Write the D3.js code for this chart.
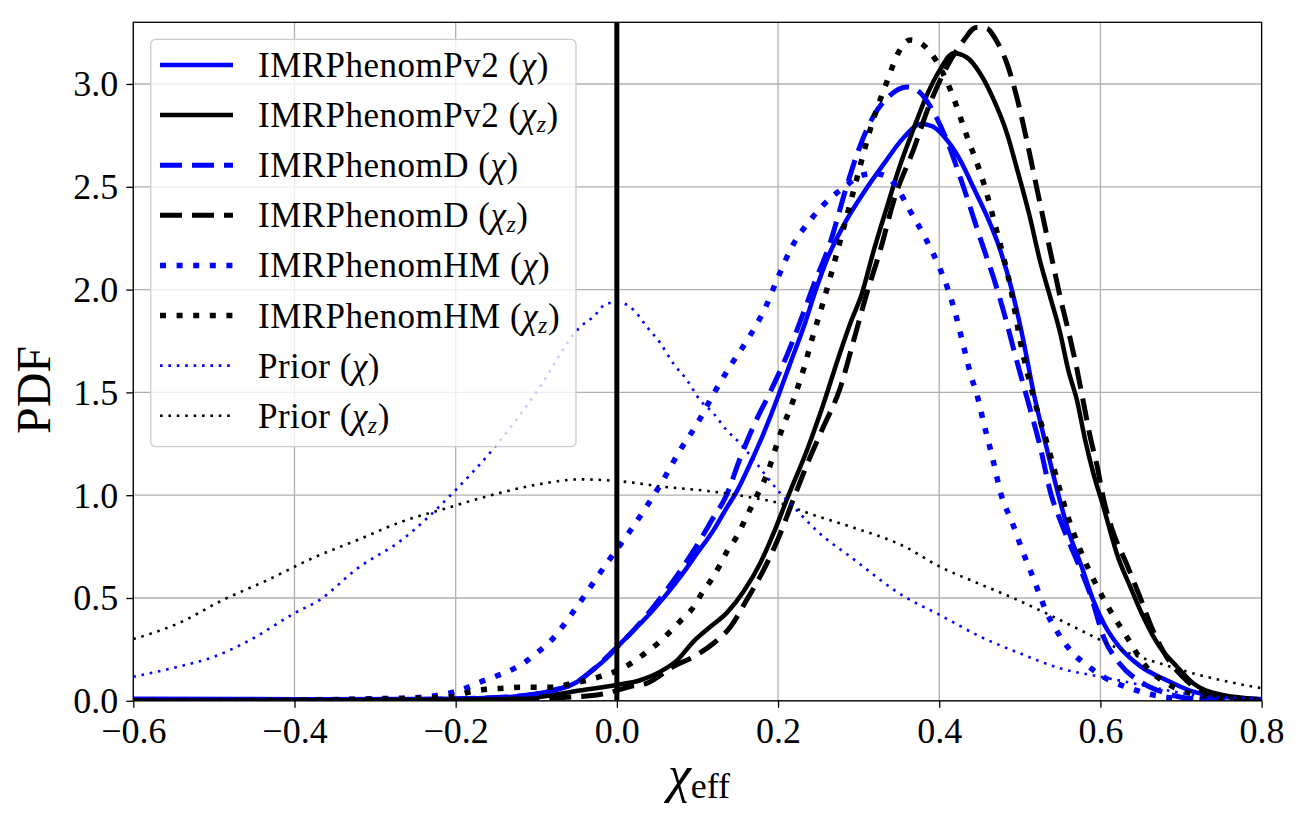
<!DOCTYPE html>
<html>
<head>
<meta charset="utf-8">
<script src="https://cdn.jsdelivr.net/npm/d3@7"></script>
<style>
  body { margin: 0; background: #fff; }
  text { font-family: "Liberation Serif", "DejaVu Serif", serif; fill: #000; }
</style>
</head>
<body>
<svg id="chart"></svg>
<script>
// ---- data: [chi_eff, PDF] ----
const pv2Chi = [[-0.6,0.01],[-0.4,0.008],[-0.2,0.01],[-0.13,0.02],[-0.08,0.05],[-0.05,0.09],[-0.03,0.15],[-0.012,0.21],[0,0.26],[0.02,0.34],[0.04,0.42],[0.06,0.51],[0.08,0.61],[0.1,0.72],[0.12,0.83],[0.135,0.93],[0.149,1.02],[0.165,1.15],[0.182,1.3],[0.2,1.48],[0.215,1.64],[0.232,1.82],[0.247,2.0],[0.26,2.14],[0.281,2.31],[0.306,2.47],[0.331,2.61],[0.356,2.74],[0.377,2.805],[0.391,2.795],[0.407,2.74],[0.426,2.63],[0.442,2.5],[0.46,2.35],[0.475,2.2],[0.49,2.0],[0.504,1.76],[0.517,1.5],[0.532,1.25],[0.548,1.0],[0.56,0.83],[0.577,0.65],[0.59,0.5],[0.605,0.37],[0.624,0.26],[0.649,0.17],[0.682,0.1],[0.711,0.05],[0.75,0.02],[0.8,0.008]];

const pv2Chiz = [[-0.6,0.0],[-0.3,0.002],[-0.2,0.005],[-0.116,0.012],[-0.079,0.028],[-0.046,0.05],[-0.02,0.065],[0,0.077],[0.029,0.1],[0.054,0.142],[0.075,0.198],[0.095,0.288],[0.116,0.36],[0.137,0.43],[0.157,0.53],[0.178,0.67],[0.195,0.82],[0.212,0.99],[0.236,1.22],[0.256,1.44],[0.275,1.67],[0.29,1.84],[0.304,1.98],[0.318,2.18],[0.335,2.4],[0.351,2.6],[0.368,2.78],[0.384,2.94],[0.401,3.07],[0.418,3.15],[0.434,3.13],[0.451,3.05],[0.468,2.92],[0.484,2.76],[0.497,2.58],[0.512,2.36],[0.525,2.14],[0.538,1.96],[0.55,1.79],[0.56,1.61],[0.571,1.46],[0.581,1.27],[0.591,1.11],[0.604,0.94],[0.614,0.8],[0.62,0.72],[0.637,0.555],[0.645,0.48],[0.653,0.41],[0.674,0.26],[0.695,0.166],[0.715,0.085],[0.75,0.03],[0.8,0.008]];

const dChi = [[-0.6,0.005],[-0.3,0.005],[-0.2,0.01],[-0.13,0.02],[-0.08,0.05],[-0.05,0.09],[-0.03,0.15],[0,0.26],[0.02,0.34],[0.04,0.43],[0.06,0.53],[0.08,0.64],[0.1,0.76],[0.118,0.88],[0.136,1.0],[0.153,1.18],[0.17,1.34],[0.19,1.5],[0.211,1.68],[0.228,1.85],[0.244,2.02],[0.264,2.22],[0.285,2.5],[0.3,2.68],[0.318,2.84],[0.339,2.945],[0.36,2.985],[0.377,2.955],[0.392,2.87],[0.409,2.73],[0.43,2.5],[0.45,2.26],[0.472,2.0],[0.483,1.85],[0.493,1.7],[0.507,1.5],[0.525,1.24],[0.539,1.0],[0.55,0.88],[0.558,0.8],[0.571,0.68],[0.589,0.5],[0.604,0.31],[0.624,0.18],[0.653,0.085],[0.682,0.036],[0.71,0.012],[0.8,0.002]];

const dChiz = [[-0.6,0.0],[-0.3,0.002],[-0.2,0.004],[-0.1,0.01],[-0.062,0.017],[-0.025,0.028],[0,0.05],[0.0165,0.069],[0.037,0.085],[0.07,0.166],[0.099,0.223],[0.12,0.28],[0.141,0.36],[0.161,0.49],[0.182,0.636],[0.203,0.815],[0.219,0.98],[0.236,1.15],[0.256,1.33],[0.277,1.52],[0.293,1.74],[0.31,1.98],[0.326,2.18],[0.345,2.45],[0.368,2.68],[0.388,2.9],[0.409,3.08],[0.43,3.21],[0.446,3.275],[0.459,3.27],[0.471,3.21],[0.484,3.1],[0.496,2.94],[0.51,2.7],[0.525,2.42],[0.542,2.11],[0.55,1.965],[0.562,1.77],[0.571,1.61],[0.579,1.45],[0.587,1.29],[0.596,1.14],[0.604,0.98],[0.614,0.84],[0.632,0.67],[0.649,0.506],[0.665,0.344],[0.682,0.214],[0.702,0.117],[0.723,0.052],[0.76,0.015],[0.8,0.005]];

const hmChi = [[-0.6,0.0],[-0.4,0.003],[-0.3,0.01],[-0.25,0.015],[-0.22,0.028],[-0.2,0.045],[-0.185,0.065],[-0.17,0.09],[-0.152,0.117],[-0.133,0.146],[-0.115,0.185],[-0.099,0.234],[-0.083,0.287],[-0.07,0.348],[-0.058,0.412],[-0.046,0.477],[-0.03,0.57],[-0.011,0.677],[0.0136,0.81],[0.036,0.94],[0.058,1.077],[0.078,1.216],[0.1,1.35],[0.121,1.5],[0.141,1.63],[0.164,1.768],[0.184,1.91],[0.2,2.06],[0.217,2.206],[0.24,2.338],[0.268,2.455],[0.283,2.5],[0.3,2.55],[0.318,2.565],[0.335,2.55],[0.347,2.5],[0.362,2.395],[0.382,2.257],[0.4,2.11],[0.411,2.0],[0.42,1.885],[0.43,1.727],[0.44,1.573],[0.446,1.5],[0.456,1.338],[0.466,1.184],[0.477,1.0],[0.49,0.873],[0.504,0.722],[0.519,0.574],[0.526,0.5],[0.534,0.422],[0.544,0.352],[0.555,0.284],[0.568,0.223],[0.584,0.171],[0.6,0.125],[0.618,0.088],[0.637,0.061],[0.657,0.036],[0.678,0.02],[0.7,0.01],[0.75,0.004],[0.8,0.001]];

const hmChiz = [[-0.6,0.0],[-0.4,0.003],[-0.3,0.008],[-0.25,0.012],[-0.203,0.02],[-0.182,0.044],[-0.162,0.056],[-0.141,0.061],[-0.12,0.066],[-0.1,0.066],[-0.079,0.066],[-0.058,0.082],[-0.037,0.1],[-0.019,0.12],[0,0.146],[0.018,0.183],[0.035,0.231],[0.051,0.28],[0.066,0.336],[0.08,0.393],[0.095,0.455],[0.105,0.52],[0.117,0.588],[0.128,0.661],[0.137,0.729],[0.149,0.8],[0.16,0.888],[0.17,0.968],[0.186,1.1],[0.203,1.3],[0.219,1.463],[0.232,1.617],[0.243,1.771],[0.255,1.925],[0.273,2.177],[0.293,2.47],[0.318,2.825],[0.335,3.01],[0.349,3.15],[0.364,3.214],[0.38,3.19],[0.395,3.12],[0.413,2.98],[0.434,2.75],[0.455,2.52],[0.471,2.29],[0.49,1.98],[0.5,1.76],[0.519,1.45],[0.534,1.25],[0.548,1.05],[0.561,0.88],[0.575,0.733],[0.594,0.57],[0.612,0.44],[0.633,0.309],[0.655,0.174],[0.686,0.077],[0.705,0.044],[0.74,0.018],[0.8,0.005]];

const priorChi = [[-0.6,0.117],[-0.544,0.166],[-0.5,0.214],[-0.455,0.296],[-0.4,0.426],[-0.369,0.49],[-0.322,0.644],[-0.267,0.782],[-0.2,1.025],[-0.151,1.236],[-0.1,1.5],[-0.045,1.82],[-0.029,1.868],[-0.012,1.933],[0.004,1.936],[0.021,1.9],[0.037,1.82],[0.054,1.739],[0.07,1.641],[0.087,1.56],[0.103,1.463],[0.12,1.398],[0.136,1.317],[0.153,1.252],[0.17,1.171],[0.186,1.09],[0.203,1.009],[0.219,0.944],[0.25,0.82],[0.29,0.7],[0.357,0.506],[0.401,0.417],[0.451,0.312],[0.5,0.231],[0.55,0.158],[0.6,0.117],[0.641,0.085],[0.682,0.052],[0.723,0.025],[0.8,0.012]];

const priorChiz = [[-0.6,0.3],[-0.544,0.377],[-0.489,0.49],[-0.433,0.588],[-0.378,0.693],[-0.322,0.782],[-0.267,0.871],[-0.212,0.936],[-0.156,1.0],[-0.101,1.05],[-0.045,1.077],[0.008,1.066],[0.058,1.041],[0.12,1.017],[0.161,0.993],[0.203,0.96],[0.244,0.904],[0.29,0.847],[0.357,0.75],[0.401,0.652],[0.446,0.575],[0.488,0.506],[0.533,0.425],[0.575,0.344],[0.608,0.28],[0.641,0.223],[0.674,0.182],[0.707,0.142],[0.75,0.1],[0.8,0.061]];

const waveforms = ["IMRPhenomPv2", "IMRPhenomPv2", "IMRPhenomD", "IMRPhenomD", "IMRPhenomHM", "IMRPhenomHM", "Prior", "Prior"];
const spinKind = ["chi", "chiz", "chi", "chiz", "chi", "chiz", "chi", "chiz"];
const curves = [pv2Chi, pv2Chiz, dChi, dChiz, hmChi, hmChiz, priorChi, priorChiz];

const xTicks = [-0.6, -0.4, -0.2, 0.0, 0.2, 0.4, 0.6, 0.8];
const yTicks = [0.0, 0.5, 1.0, 1.5, 2.0, 2.5, 3.0];

// line looks, one per curve
const looks = [
  { color: "#0000ff", width: 4.5, dash: null },
  { color: "#000000", width: 4.5, dash: null },
  { color: "#0000ff", width: 5, dash: "22,10" },
  { color: "#000000", width: 5, dash: "22,10" },
  { color: "#0000ff", width: 5.5, dash: "6,10.6" },
  { color: "#000000", width: 5.5, dash: "6,10.6" },
  { color: "#0000ff", width: 2.6, dash: "2.6,5.8" },
  { color: "#000000", width: 2.6, dash: "2.6,5.8" }
];

const W = 1302, H = 823;
const pLeft = 133.3, pRight = 1261.6, pTop = 22.3, pBottom = 700.8;

const svg = d3.select("#chart")
    .attr("width", W)
    .attr("height", H)
    .style("background-color", "white");

const xScale = d3.scaleLinear().domain([-0.6, 0.8]).range([pLeft, pRight]);
const yScale = d3.scaleLinear().domain([0, 3.3]).range([pBottom, pTop]);

svg.append("defs").append("clipPath").attr("id", "plotclip")
    .append("rect")
    .attr("x", pLeft).attr("y", pTop)
    .attr("width", pRight - pLeft).attr("height", pBottom - pTop);

// grid
const grid = svg.append("g");
grid.selectAll("line.gx")
    .data(xTicks)
    .join("line")
    .attr("class", "gx")
    .attr("x1", d => xScale(d)).attr("x2", d => xScale(d))
    .attr("y1", pTop).attr("y2", pBottom)
    .attr("stroke", "#b0b0b0").attr("stroke-width", 1.3);
grid.selectAll("line.gy")
    .data(yTicks)
    .join("line")
    .attr("class", "gy")
    .attr("x1", pLeft).attr("x2", pRight)
    .attr("y1", d => yScale(d)).attr("y2", d => yScale(d))
    .attr("stroke", "#b0b0b0").attr("stroke-width", 1.3);

// curves
const line = d3.line()
    .x(d => xScale(d[0]))
    .y(d => yScale(d[1]))
    .curve(d3.curveMonotoneX);

const plot = svg.append("g").attr("clip-path", "url(#plotclip)");
plot.selectAll("path.curve")
    .data(curves)
    .join("path")
    .attr("class", "curve")
    .attr("d", line)
    .attr("fill", "none")
    .attr("stroke", (d, i) => looks[i].color)
    .attr("stroke-width", (d, i) => looks[i].width)
    .attr("stroke-dasharray", (d, i) => looks[i].dash)
    .attr("stroke-linejoin", "round");

// vertical line at zero
plot.append("line")
    .attr("x1", xScale(0)).attr("x2", xScale(0))
    .attr("y1", pTop).attr("y2", pBottom)
    .attr("stroke", "black")
    .attr("stroke-width", 5);

// axes
const xAxis = svg.append("g")
    .attr("transform", "translate(0," + pBottom + ")")
    .call(d3.axisBottom(xScale).tickValues(xTicks).tickFormat(d3.format(".1f")).tickSize(7).tickPadding(8));
xAxis.select(".domain").remove();
xAxis.selectAll("line").attr("stroke-width", 1.3);
xAxis.selectAll("text")
    .attr("y", 42).attr("dy", 0)
    .style("font-size", "36px")
    .style("font-family", "'Liberation Serif', serif");

const yAxis = svg.append("g")
    .attr("transform", "translate(" + pLeft + ",0)")
    .call(d3.axisLeft(yScale).tickValues(yTicks).tickFormat(d3.format(".1f")).tickSize(7).tickPadding(8));
yAxis.select(".domain").remove();
yAxis.selectAll("line").attr("stroke-width", 1.3);
yAxis.selectAll("text")
    .attr("dy", "0.33em")
    .style("font-size", "36px")
    .style("font-family", "'Liberation Serif', serif");

// frame
svg.append("rect")
    .attr("x", pLeft).attr("y", pTop)
    .attr("width", pRight - pLeft).attr("height", pBottom - pTop)
    .attr("fill", "none")
    .attr("stroke", "black")
    .attr("stroke-width", 1.3);

// axis labels
svg.append("text")
    .attr("transform", "translate(50,390) rotate(-90)")
    .attr("text-anchor", "middle")
    .style("font-size", "48px")
    .text("PDF");

const xl = svg.append("text")
    .attr("x", 699).attr("y", 792)
    .attr("text-anchor", "middle");
xl.append("tspan").style("font-style", "italic").style("font-size", "52px").text("χ");
xl.append("tspan").attr("dy", 6).style("font-size", "36px").text("eff");

// legend
const legend = svg.append("g");
legend.append("rect")
    .attr("x", 150.7).attr("y", 39.3)
    .attr("width", 425.3).attr("height", 407.4)
    .attr("rx", 5).attr("ry", 5)
    .attr("fill", "white").attr("fill-opacity", 0.8)
    .attr("stroke", "#cccccc").attr("stroke-width", 1.3);

const rows = legend.selectAll("g.row")
    .data(waveforms)
    .join("g")
    .attr("class", "row")
    .attr("transform", (d, i) => "translate(0," + (65 + i * 50.1) + ")");

rows.append("line")
    .attr("x1", 160).attr("x2", 233)
    .attr("y1", 0).attr("y2", 0)
    .attr("stroke", (d, i) => looks[i].color)
    .attr("stroke-width", (d, i) => looks[i].width)
    .attr("stroke-dasharray", (d, i) => looks[i].dash);

const labels = rows.append("text")
    .attr("x", 258).attr("y", 12)
    .style("font-size", "35px")
    .style("letter-spacing", "0.5px");
labels.append("tspan").text(d => d + " (");
labels.append("tspan").style("font-style", "italic").text("χ");
labels.filter((d, i) => spinKind[i] == "chiz")
    .append("tspan").attr("dy", 5).style("font-style", "italic").style("font-size", "24px").text("z");
labels.each(function (d, i) {
    d3.select(this).append("tspan")
        .attr("dy", spinKind[i] == "chiz" ? -5 : 0)
        .text(")");
});
</script>
</body>
</html>
